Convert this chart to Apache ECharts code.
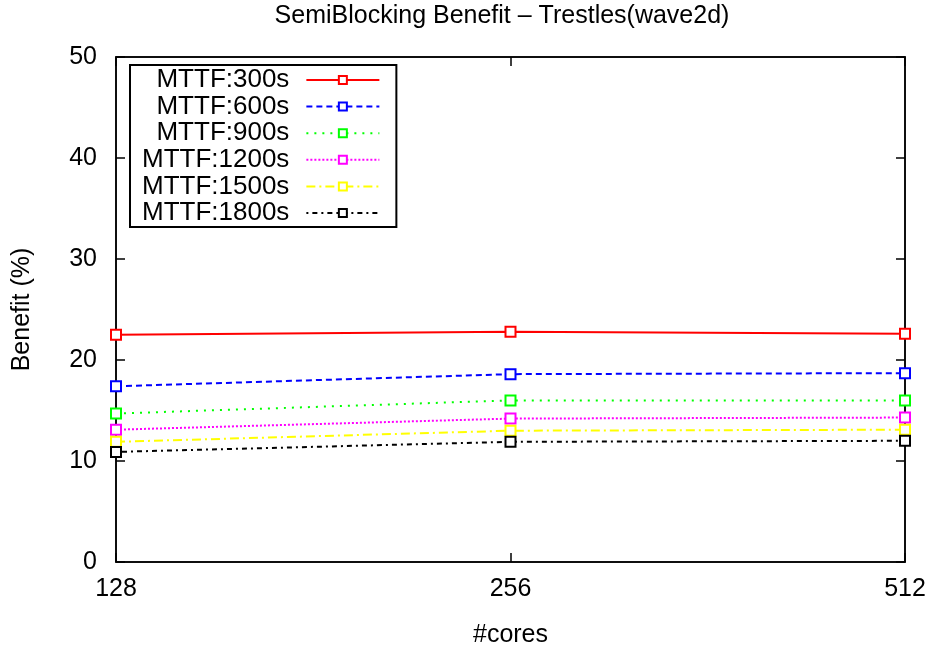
<!DOCTYPE html>
<html>
<head>
<meta charset="utf-8">
<script src="https://cdn.jsdelivr.net/npm/echarts@6/dist/echarts.min.js"></script>
<style>
  html, body { margin: 0; padding: 0; background: #fff; }
  #chart { width: 932px; height: 645px; }
</style>
</head>
<body>
<div id="chart"></div>
<script>
// Core counts on the x axis
const cores = ['128', '256', '512'];

// Benefit (%) per MTTF setting
const mttf300 = [22.5, 22.8, 22.6];
const mttf600 = [17.4, 18.6, 18.7];
const mttf900 = [14.7, 16.0, 16.0];
const mttf1200 = [13.1, 14.2, 14.3];
const mttf1500 = [11.9, 13.0, 13.1];
const mttf1800 = [10.9, 11.9, 12.0];

const yTicks = [0, 10, 20, 30, 40, 50];

const FONT = '"Liberation Sans", Arial, Helvetica, sans-serif';

const seriesDefs = [
  { name: 'MTTF:300s', data: mttf300, color: '#ff0000', type: 'solid' },
  { name: 'MTTF:600s', data: mttf600, color: '#0000ff', type: [6, 4] },
  { name: 'MTTF:900s', data: mttf900, color: '#00ff00', type: [2, 6] },
  { name: 'MTTF:1200s', data: mttf1200, color: '#ff00ff', type: [2, 2] },
  { name: 'MTTF:1500s', data: mttf1500, color: '#ffff00', type: [9, 4, 2, 4] },
  { name: 'MTTF:1800s', data: mttf1800, color: '#000000', type: [2, 4, 5, 4] }
];

const chart = echarts.init(document.getElementById('chart'), null, { renderer: 'canvas' });

const frameLine = { show: true, onZero: false, lineStyle: { color: '#000', width: 1.5 } };
const innerTick = { show: true, inside: true, length: 9, lineStyle: { color: '#000', width: 1.5 } };

const option = {
  backgroundColor: '#fff',
  animation: false,
  textStyle: { fontFamily: FONT },
  title: {
    text: 'SemiBlocking Benefit \u2013 Trestles(wave2d)',
    left: 497,
    textAlign: 'center',
    top: -1,
    textStyle: { fontFamily: FONT, fontSize: 25, fontWeight: 'normal', color: '#000' }
  },
  grid: {
    left: 116, right: 27, top: 57, bottom: 83,
    outerBoundsMode: 'none',
    containLabel: false,
    show: true, borderColor: '#000', borderWidth: 1.5, backgroundColor: 'transparent'
  },
  legend: {
    orient: 'vertical',
    left: 130,
    top: 65,
    align: 'right',
    padding: [2, 16, 1, 12],
    itemGap: 0.6,
    itemWidth: 73,
    itemHeight: 10,
    borderColor: '#000',
    borderWidth: 2,
    backgroundColor: '#fff',
    formatter: function (name) { return '{n|' + name + '}'; },
    textStyle: {
      fontFamily: FONT, fontSize: 26, color: '#000',
      rich: { n: { fontFamily: FONT, fontSize: 26, lineHeight: 26, align: 'right', padding: [0, 12, 0, 0] } }
    },
    data: seriesDefs.map(s => s.name)
  },
  xAxis: [
    {
      type: 'category',
      data: cores,
      boundaryGap: false,
      name: '#cores',
      nameLocation: 'middle',
      nameGap: 61,
      nameTextStyle: { fontFamily: FONT, fontSize: 25, color: '#000' },
      axisLine: frameLine,
      axisTick: innerTick,
      axisLabel: { fontFamily: FONT, fontSize: 25, color: '#000', margin: 15 },
      splitLine: { show: false }
    },
    {
      type: 'category',
      data: cores,
      boundaryGap: false,
      position: 'top',
      axisLine: frameLine,
      axisTick: innerTick,
      axisLabel: { show: false },
      splitLine: { show: false }
    }
  ],
  yAxis: [
    {
      type: 'value',
      min: yTicks[0],
      max: yTicks[yTicks.length - 1],
      interval: 10,
      name: 'Benefit (%)',
      nameLocation: 'middle',
      nameGap: 81,
      nameRotate: 90,
      nameTextStyle: { fontFamily: FONT, fontSize: 25, color: '#000' },
      axisLine: frameLine,
      axisTick: innerTick,
      axisLabel: { fontFamily: FONT, fontSize: 25, color: '#000', margin: 19 },
      splitLine: { show: false }
    },
    {
      type: 'value',
      min: yTicks[0],
      max: yTicks[yTicks.length - 1],
      interval: 10,
      position: 'right',
      axisLine: frameLine,
      axisTick: innerTick,
      axisLabel: { show: false },
      splitLine: { show: false }
    }
  ],
  series: seriesDefs.map(s => ({
    name: s.name,
    type: 'line',
    data: s.data,
    xAxisIndex: 0,
    yAxisIndex: 0,
    symbol: 'rect',
    symbolSize: 10,
    showAllSymbol: true,
    clip: false,
    lineStyle: { color: s.color, width: 2, type: s.type },
    itemStyle: { color: '#fff', borderColor: s.color, borderWidth: 2 },
    emphasis: { disabled: true }
  }))
};

chart.setOption(option);
</script>
</body>
</html>
